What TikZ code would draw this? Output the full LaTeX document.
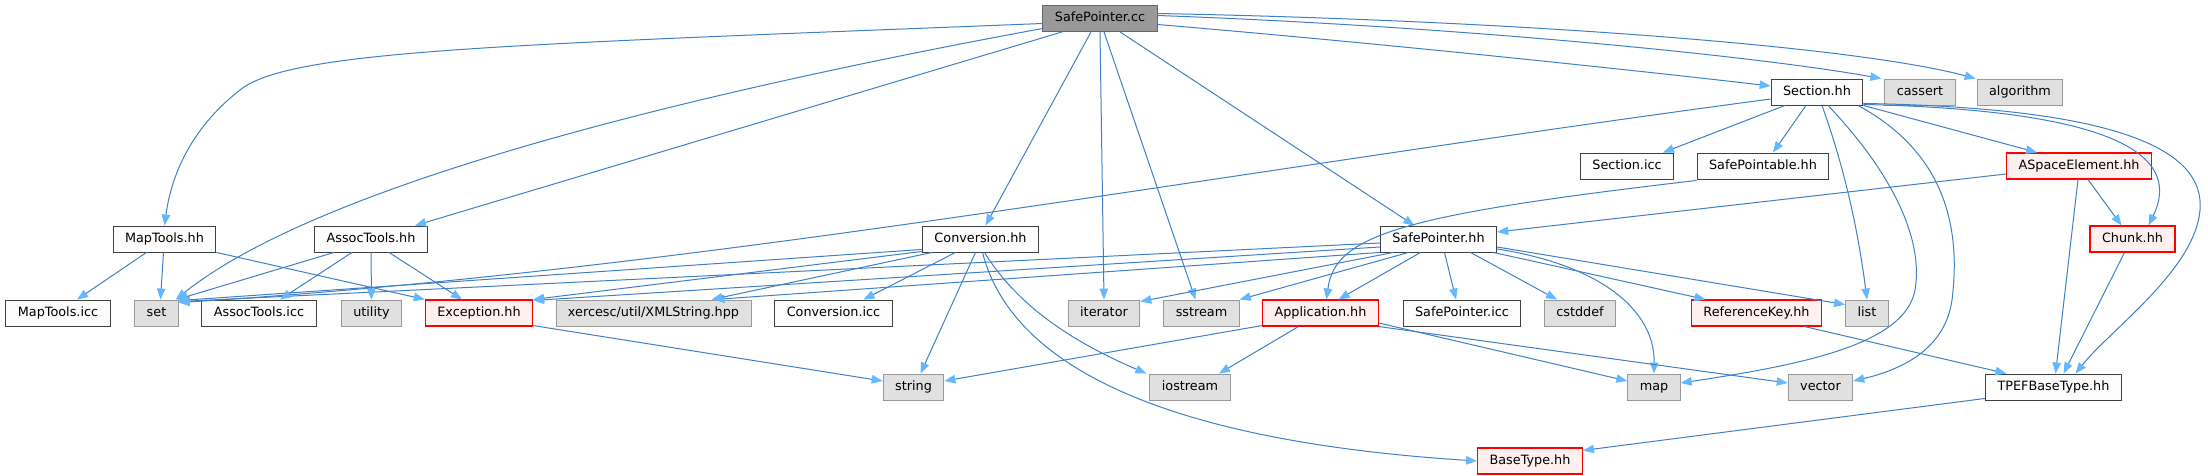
\documentclass[tikz,border=0pt]{standalone}
\usepackage{fontspec}
\setmainfont{DejaVu Sans}
\usetikzlibrary{arrows.meta}
\definecolor{linkblue}{HTML}{3F7FC6}
\definecolor{headblue}{HTML}{63B8FF}
\definecolor{sysfill}{HTML}{E0E0E0}
\definecolor{sysline}{HTML}{999999}
\definecolor{hdrline}{HTML}{404040}
\definecolor{hdrfill}{HTML}{FBFCFB}
\definecolor{badfill}{HTML}{FFF0F0}
\definecolor{rootfill}{HTML}{999999}
\definecolor{rootline}{HTML}{666666}
\begin{document}
\begin{tikzpicture}[x=1pt,y=-1pt,
  every node/.style={draw,font=\fontsize{12.8}{15}\selectfont,inner xsep=12pt,inner ysep=0pt,
    minimum height=26pt,text height=9.4pt,text depth=2.6pt,line width=0.9pt},
  hdr/.style={fill=hdrfill,draw=hdrline},
  sys/.style={fill=sysfill,draw=sysline},
  bad/.style={fill=badfill,draw=red,line width=1.1pt},
  srcfile/.style={fill=rootfill,draw=rootline},
  inc/.style={draw=linkblue,line width=1pt,
    -{Triangle[length=11pt,width=8.5pt,fill=headblue,color=headblue]}}]
\useasboundingbox (0,0) rectangle (2208,476);
\node[srcfile] (root) at (1100,18.5) {SafePointer.cc};
\node[hdr] (section) at (1817,92) {Section.hh};
\node[sys] (cassert) at (1920,92) {cassert};
\node[sys] (algorithm) at (2020,92) {algorithm};
\node[hdr] (secicc) at (1627,166) {Section.icc};
\node[hdr] (spable) at (1763,166) {SafePointable.hh};
\node[bad] (aspace) at (2079,166) {ASpaceElement.hh};
\node[hdr] (maptools) at (164.5,239) {MapTools.hh};
\node[hdr] (assoc) at (371,239) {AssocTools.hh};
\node[hdr] (conv) at (980.5,239) {Conversion.hh};
\node[hdr] (sph) at (1438.5,239) {SafePointer.hh};
\node[bad] (chunk) at (2132.5,239) {Chunk.hh};
\node[hdr] (mapicc) at (58,313) {MapTools.icc};
\node[sys] (set) at (156.5,313) {set};
\node[hdr] (associcc) at (259,313) {AssocTools.icc};
\node[sys] (utility) at (371.5,313) {utility};
\node[bad] (exception) at (479,313) {Exception.hh};
\node[sys] (xerces) at (653.5,313) {xercesc/util/XMLString.hpp};
\node[hdr] (convicc) at (833.5,313) {Conversion.icc};
\node[sys] (iterator) at (1104,313) {iterator};
\node[sys] (sstream) at (1201.5,313) {sstream};
\node[bad] (app) at (1320.5,313) {Application.hh};
\node[hdr] (spicc) at (1462,313) {SafePointer.icc};
\node[sys] (cstddef) at (1580,313) {cstddef};
\node[bad] (refkey) at (1756.5,313) {ReferenceKey.hh};
\node[sys] (list) at (1867,313) {list};
\node[sys] (string) at (913.5,387) {string};
\node[sys] (iostream) at (1190,387) {iostream};
\node[sys] (map) at (1654,387) {map};
\node[sys] (vector) at (1820.5,387) {vector};
\node[hdr] (tpef) at (2053.5,387) {TPEFBaseType.hh};
\node[bad] (basetype) at (1530,461) {BaseType.hh};

\draw[inc] ([yshift=-5pt]root.west) .. controls (500,45) and (290,50) .. (240,90)
  .. controls (195,125) and (172,170) .. (maptools.north);
\draw[inc] ([yshift=-10pt]root.west) .. controls (600,110) and (300,200) .. ([xshift=-3pt]set.north east);
\draw[inc] ([xshift=-38pt]root.south) -- ([xshift=44pt]assoc.north);
\draw[inc] ([xshift=-9pt]root.south) -- ([xshift=5pt]conv.north);
\draw[inc] (root.south) -- (iterator.north);
\draw[inc] ([xshift=4pt]root.south) -- ([xshift=-6pt]sstream.north);
\draw[inc] ([xshift=20pt]root.south) -- ([xshift=-24pt]sph.north);
\draw[inc] ([yshift=-6pt]root.east) .. controls (1400,45) and (1650,72) .. ([yshift=6pt]section.west);
\draw[inc] ([yshift=3pt]root.east) .. controls (1450,26) and (1750,55) .. ([xshift=-3pt]cassert.north west);
\draw[inc] ([yshift=5pt]root.east) .. controls (1500,20) and (1850,45) .. ([xshift=-1pt]algorithm.north west);

\draw[inc] ([xshift=-32pt]section.south) -- ([xshift=36pt]secicc.north);
\draw[inc] ([xshift=-11pt]section.south) -- ([xshift=10pt]spable.north);
\draw[inc] ([xshift=5pt]section.south) .. controls (1845,170) and (1858,230) .. (list.north);
\draw[inc] ([xshift=11pt]section.south) .. controls (1880,160) and (1925,230) .. (1915,290)
  .. controls (1905,345) and (1800,365) .. ([yshift=4pt]map.east);
\draw[inc] ([xshift=41pt]section.south) .. controls (1940,150) and (1962,220) .. (1952,300)
  .. controls (1945,350) and (1900,370) .. ([yshift=6pt]vector.east);
\draw[inc] (section.south east) -- ([xshift=-42pt]aspace.north);
\draw[inc] ([yshift=1pt]section.south east) .. controls (2100,110) and (2185,150) .. ([xshift=16pt]chunk.north);
\draw[inc] ([yshift=2pt]section.south east) .. controls (2120,108) and (2205,150) .. (2200,210)
  .. controls (2195,270) and (2110,330) .. ([xshift=22pt]tpef.north);
\draw[inc] ([yshift=-7pt]section.west) .. controls (1200,175) and (700,270) .. ([yshift=-3pt]set.north east);

\draw[inc] ([yshift=-1pt]spable.south west) .. controls (1400,215) and (1335,235) .. ([xshift=6pt]app.north);
\draw[inc] ([yshift=-8pt]aspace.west) -- ([yshift=7pt]sph.east);
\draw[inc] ([xshift=9pt]aspace.south) -- ([xshift=-11pt]chunk.north);
\draw[inc] ([xshift=-1pt]aspace.south) -- ([xshift=2pt]tpef.north);
\draw[inc] ([xshift=-8pt]chunk.south) -- ([xshift=10pt]tpef.north);
\draw[inc] ([xshift=48pt]refkey.south) -- ([xshift=-47pt]tpef.north);
\draw[inc] ([yshift=2pt]tpef.south west) -- ([yshift=-3pt]basetype.north east);

\draw[inc] ([xshift=55pt]sph.south) -- ([xshift=-51pt]refkey.north);
\draw[inc] ([yshift=-8pt]sph.east) -- ([yshift=-5pt]list.north west);
\draw[inc] ([yshift=-10pt]sph.east) .. controls (1600,265) and (1655,310) .. (map.north);
\draw[inc] ([xshift=32pt]sph.south) -- ([xshift=-23pt]cstddef.north);
\draw[inc] ([xshift=6pt]sph.south) -- ([xshift=-6pt]spicc.north);
\draw[inc] ([xshift=-18pt]sph.south) -- ([xshift=18pt]app.north);
\draw[inc] ([xshift=-30pt]sph.south) -- (sstream.north east);
\draw[inc] ([xshift=-45pt]sph.south) -- ([yshift=-2pt]iterator.north east);
\draw[inc] ([yshift=-4pt]sph.west) -- ([yshift=-2pt]set.north east);
\draw[inc] ([yshift=-8pt]sph.west) -- ([yshift=-1pt]exception.north east);
\draw[inc] (sph.south west) -- ([xshift=60pt]xerces.north);

\draw[inc] ([yshift=3pt]conv.south west) -- ([yshift=-1pt]set.north east);
\draw[inc] ([yshift=1pt]conv.south west) -- (exception.north east);
\draw[inc] ([xshift=10pt]conv.south west) -- ([xshift=58pt]xerces.north);
\draw[inc] ([xshift=-25pt]conv.south) -- ([xshift=30pt]convicc.north);
\draw[inc] ([xshift=-5pt]conv.south) -- ([xshift=7pt]string.north);
\draw[inc] ([xshift=4pt]conv.south) .. controls (1020,310) and (1080,345) .. ([xshift=-3pt]iostream.north west);
\draw[inc] ([xshift=2pt]conv.south) .. controls (1010,360) and (1150,440) .. (basetype.west);

\draw[inc] ([yshift=1pt]exception.south east) -- ([yshift=6pt]string.west);
\draw[inc] ([yshift=1pt]app.south west) -- ([yshift=6pt]string.east);
\draw[inc] ([xshift=-22pt]app.south) -- ([xshift=29pt]iostream.north);
\draw[inc] ([yshift=-10pt]app.east) -- ([yshift=6pt]map.west);
\draw[inc] (app.south east) -- ([yshift=4pt]vector.west);

\draw[inc] ([xshift=-18pt]maptools.south) -- ([xshift=19pt]mapicc.north);
\draw[inc] ([xshift=-1pt]maptools.south) -- ([xshift=4pt]set.north);
\draw[inc] (maptools.south east) -- (exception.north west);
\draw[inc] ([xshift=-37pt]assoc.south) -- ([xshift=-2pt]set.north east);
\draw[inc] ([xshift=-19pt]assoc.south) -- ([xshift=21pt]associcc.north);
\draw[inc] (assoc.south) -- (utility.north);
\draw[inc] ([xshift=18pt]assoc.south) -- ([xshift=-17pt]exception.north);
\end{tikzpicture}
\end{document}
